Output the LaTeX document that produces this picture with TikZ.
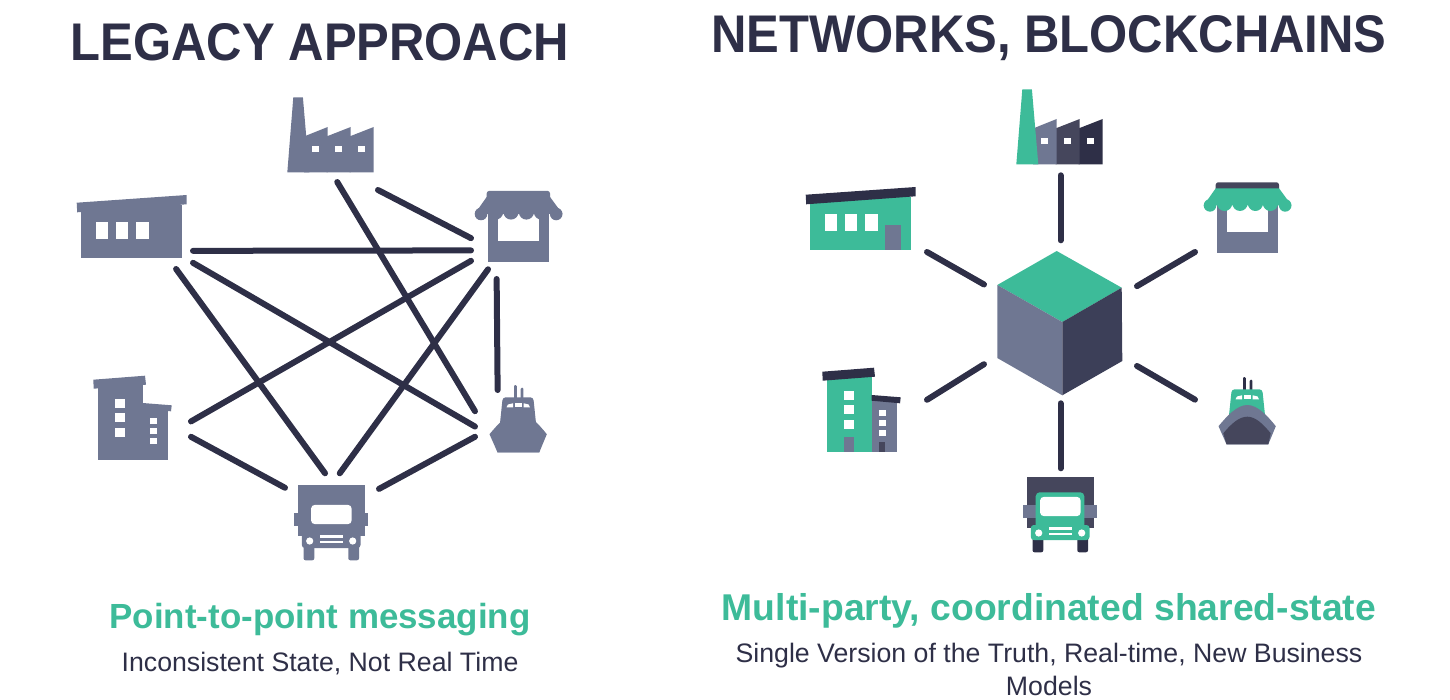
\documentclass[tikz,border=0pt]{standalone}
\usepackage{fontspec}
\usepackage{xcolor}
\setmainfont{Liberation Sans}
\newfontfamily\headfont[FakeStretch=0.925]{Liberation Sans}
\definecolor{mSlate}{HTML}{6F7792}
\definecolor{mDark}{HTML}{2E2F47}
\definecolor{mMid}{HTML}{45465C}
\definecolor{mCube}{HTML}{3C3F58}
\definecolor{mGreen}{HTML}{3DBB99}
\tikzset{
  pics/factoryart/.style n args={4}{code={
    \fill[#4] (349.7,136) -- (350.7,136) -- (373.7,127) -- (373.7,172.5) -- (349.7,172.5) -- cycle;
    \fill[#3] (326.7,136) -- (327.7,136) -- (350.7,127) -- (350.7,172.5) -- (326.7,172.5) -- cycle;
    \fill[#2] (304,135.7) -- (306,135.7) -- (327.7,127) -- (327.7,172.5) -- (304,172.5) -- cycle;
    \fill[#1] (293.3,97.3) -- (302.9,97.3) -- (309.3,172.5) -- (287.3,172.5) -- cycle;
    \foreach \wx in {312.2,335.3,358.3}
      \fill[white] (\wx,145.8) rectangle ++(6.7,6.7);
  }},
  pics/warehouseart/.style n args={3}{code={
    \fill[#1] (80.7,205) rectangle (182,258);
    \fill[#2] (76.7,202.7) -- (186.7,195) -- (186.7,204.3) -- (77.2,212.3) -- cycle;
    \foreach \wx in {95.7,115.7,136}
      \fill[white] (\wx,221.7) rectangle ++(12.6,17);
    \fill[#3] (156,233) rectangle (172,258);
  }},
  pics/storeart/.style n args={3}{code={
    \fill[#1] (487.7,200) rectangle (548.7,262);
    \fill[white] (498.3,210) rectangle (539.3,240.8);
    \fill[#3, rounded corners=2.5pt] (486.7,200) -- (486.7,190.9) -- (550,190.9) -- (550,200) -- cycle;
    \fill[#2] (486.7,196.9) -- (550,196.9) -- (562.5,214) -- (474.7,214) -- cycle;
    \fill[#2] (481,214) circle (6.3pt);
    \fill[#2] (556.2,214) circle (6.3pt);
    \foreach \bx in {495.6,511,526.4,541.4}
      \fill[#2] (\bx,212) circle (7.6pt);
  }},
  pics/buildingart/.style n args={5}{code={
    \fill[#3] (142.7,405) rectangle (168.3,460);
    \fill[#1] (97.7,380) rectangle (142.7,460);
    \fill[#2] (93.3,379.7) -- (145,375.7) -- (146,384.7) -- (93.7,388.7) -- cycle;
    \fill[#2] (142.7,403) -- (171.7,405.3) -- (171,411.3) -- (142.7,408.7) -- cycle;
    \foreach \wy in {398.7,413.3,427.7}
      \fill[white] (114.7,\wy) rectangle ++(10,9);
    \foreach \wy in {418.3,428.3,438}
      \fill[white] (150,\wy) rectangle ++(6.6,5.7);
    \fill[#4] (115,444.7) rectangle (124.7,460);
    \fill[#5] (150,449.7) rectangle (156.4,460);
  }},
  pics/shipart/.style n args={4}{code={
    \fill[#2, rounded corners=1.2pt] (514,400) -- (514,385) -- (516.8,385) -- (516.8,400) -- cycle;
    \fill[#2, rounded corners=1.2pt] (520.6,400) -- (520.6,387.7) -- (523.4,387.7) -- (523.4,400) -- cycle;
    \fill[#1, rounded corners=3pt] (499.5,428) -- (502.7,397.3) -- (533.3,397.3) -- (536.5,428) -- cycle;
    \fill[white] (506.5,407.3) -- (508,404.5) -- (513,403.3) -- (513,407.3) -- cycle;
    \fill[white] (515.3,403.3) rectangle (521.7,407.3);
    \fill[white] (530,407.3) -- (528.5,404.5) -- (523.7,403.3) -- (523.7,407.3) -- cycle;
    \fill[#3] (489.5,434.2) .. controls (498,424) and (508,413) .. (518.3,413)
      .. controls (528.6,413) and (538.6,424) .. (546.8,434.2)
      -- (539.3,452.3) -- (497.5,452.3) -- cycle;
    \fill[#4] (494.3,441.3) .. controls (502,432) and (510,424.7) .. (518.3,424.7)
      .. controls (526.6,424.7) and (534,432) .. (541.7,441.3)
      -- (539.3,452.3) -- (497.5,452.3) -- cycle;
  }},
  pics/truckart/.style n args={4}{code={
    \fill[#4, rounded corners=2pt] (303.5,540) rectangle (314.3,560.3);
    \fill[#4, rounded corners=2pt] (348.3,540) rectangle (359,560.3);
    \fill[#1] (297.8,485) rectangle (365,535.5);
    \fill[#2] (294,512.5) rectangle (367.7,526);
    \fill[#3, rounded corners=4pt] (306.7,500.3) rectangle (355.3,540);
    \fill[#3, rounded corners=3pt] (301.8,533) rectangle (360.5,548);
    \fill[white, rounded corners=4pt] (311,504.8) rectangle (351.7,524.2);
    \fill[white] (309.7,541) circle (3.6pt);
    \fill[white] (352.7,541) circle (3.6pt);
    \fill[white] (320,535) rectangle (342.7,537.6);
    \fill[white] (320,540.7) rectangle (342.7,543.3);
  }},
  iconbox/.style 2 args={minimum width=#1pt, minimum height=#2pt, inner sep=0pt, outer sep=0pt},
  link/.style={draw=mDark, line width=6pt, line cap=round},
  headline/.style={anchor=base, text=mDark, font=\headfont\fontsize{53}{60}\selectfont\bfseries},
  strapline/.style={anchor=base, text=mGreen, font=\fontsize{#1}{42}\selectfont\bfseries},
  remark/.style={text=mDark, font=\fontsize{26.7}{33}\selectfont, align=center},
}
\begin{document}
\begin{tikzpicture}[x=1pt, y=-1pt]
  \useasboundingbox (0,0) rectangle (1450,700);

  \node[headline] (titleL) at (320,60.7) {LEGACY APPROACH};
  \node[headline] (titleR) at (1049,53) {NETWORKS, BLOCKCHAINS};

  \pic at (0,0) {factoryart={mSlate}{mSlate}{mSlate}{mSlate}};
  \pic at (0,0) {warehouseart={mSlate}{mSlate}{mSlate}};
  \pic at (0,0) {storeart={mSlate}{mSlate}{mSlate}};
  \pic at (0,0) {buildingart={mSlate}{mSlate}{mSlate}{mSlate}{mSlate}};
  \pic at (0,0) {shipart={mSlate}{mSlate}{mSlate}{mSlate}};
  \pic at (0,0) {truckart={mSlate}{mSlate}{mSlate}{mSlate}};

  \node[iconbox={90}{93}] (factoryL) at (333,143.5) {};
  \node[iconbox={116}{74}] (warehouseL) at (135,232) {};
  \node[iconbox={91}{78.3}] (storeL) at (516.5,230.15) {};
  \node[iconbox={98}{84}] (buildingL) at (142,418) {};
  \node[iconbox={72}{63}] (shipL) at (511,421.5) {};
  \node[iconbox={94}{87.7}] (truckL) at (332,517.15) {};

  \draw[link] (factoryL.south east) -- (storeL.190.9);
  \draw[link, shorten <=-9.3pt] (factoryL.-79.3) -- (shipL.164.5);
  \draw[link] (warehouseL.-18.1) -- (storeL.204.6);
  \draw[link] (warehouseL.-28.1) -- (shipL.188.5);
  \draw[link] (warehouseL.-42.8) -- (truckL.99.1);
  \draw[link] (buildingL.-4.2) -- (storeL.214.1);
  \draw[link] (buildingL.-21.7) -- (truckL.148.5);
  \draw[link] (storeL.234.2) -- (truckL.80.5);
  \draw[link, shorten <=9.7pt] (storeL.243.9) -- (shipL.113.5);
  \draw[link] (shipL.203.4) -- (truckL.31.5);

  \fill[mGreen] (1056.7,251) -- (1121.7,287.7) -- (1062.3,322) -- (997.3,285) -- cycle;
  \fill[mSlate] (997.3,285) -- (1062.3,322) -- (1062.3,395.3) -- (997.3,358) -- cycle;
  \fill[mCube] (1121.7,287.7) -- (1122.3,361) -- (1062.3,395.3) -- (1062.3,322) -- cycle;

  \pic at (729,-8) {factoryart={mGreen}{mSlate}{mMid}{mDark}};
  \pic at (729,-8) {warehouseart={mGreen}{mDark}{mSlate}};
  \pic at (729,-8.6) {storeart={mSlate}{mGreen}{mMid}};
  \pic at (729,-8) {buildingart={mGreen}{mDark}{mSlate}{mSlate}{mMid}};
  \pic at (729,-8) {shipart={mGreen}{mDark}{mSlate}{mMid}};
  \pic at (729,-8) {truckart={mMid}{mSlate}{mGreen}{mDark}};

  \node[iconbox={153}{163}] (cube) at (1060.5,321.8) {};
  \node[iconbox={86}{86.3}] (factoryR) at (1060.5,132.15) {};
  \node[iconbox={121}{65}] (warehouseR) at (866.5,219.5) {};
  \node[iconbox={96}{70}] (storeR) at (1243,217) {};
  \node[iconbox={105}{84}] (buildingR) at (874.5,410) {};
  \node[iconbox={81}{69}] (shipR) at (1235.5,410.5) {};
  \node[iconbox={73}{84.7}] (truckR) at (1060.5,510.65) {};

  \draw[link] (factoryR.south) -- (cube.north);
  \draw[link] (warehouseR.south east) -- (cube.154.3);
  \draw[link] (storeR.south west) -- (cube.25.7);
  \draw[link] (buildingR.11.8) -- (cube.209.7);
  \draw[link] (shipR.165.4) -- (cube.-30.3);
  \draw[link] (truckR.north) -- (cube.south);

  \node[strapline=34.9] (gistL) at (320,628.3) {Point-to-point messaging};
  \node[remark, anchor=base] (noteL) at (320,671) {Inconsistent State, Not Real Time};
  \node[strapline=37.3] (gistR) at (1049,620) {Multi-party, coordinated shared-state};
  \node[remark] (noteR) at (1049,669.5) {Single Version of the Truth, Real-time, New Business\\Models};
\end{tikzpicture}
\end{document}
